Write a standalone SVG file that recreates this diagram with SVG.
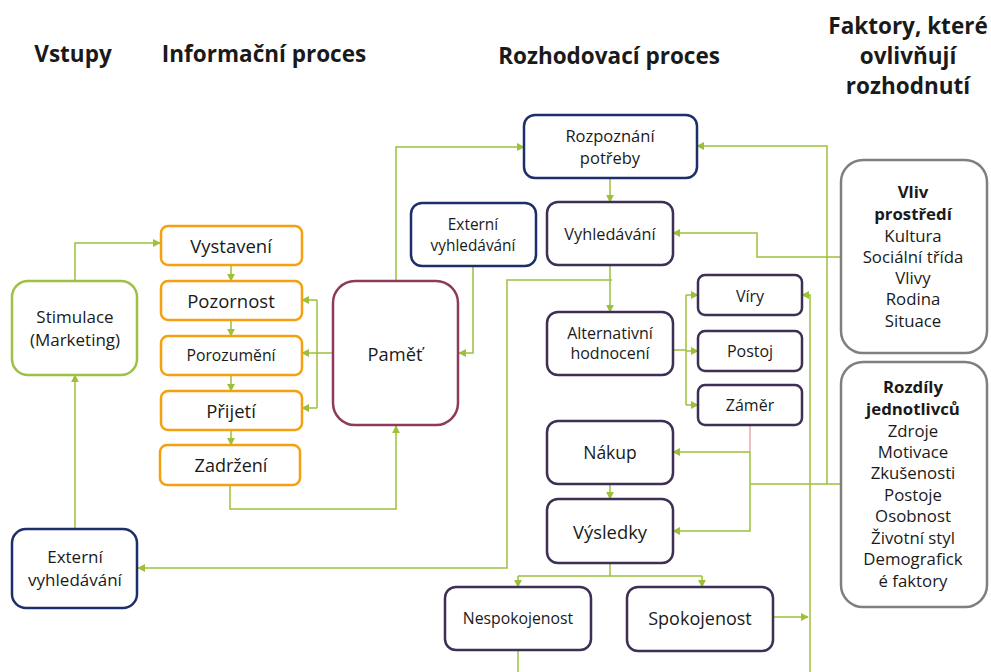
<svg xmlns="http://www.w3.org/2000/svg" width="991" height="672" viewBox="0 0 991 672">
<style>
text{font-family:"Open Sans","Liberation Sans",sans-serif;fill:#1a1a1a;text-anchor:middle;dominant-baseline:central}
.h{font-weight:bold;font-size:22.5px}
.n{fill:#fff;stroke-width:2.5}
.or{stroke:#F5A010}
.gr{stroke:#9DC045}
.nv{stroke:#1C2F6B}
.pu{stroke:#3D2F55}
.mr{stroke:#8E3A5C}
.gy{stroke:#7F7F7F}
.c path{fill:none;stroke:#9DC03A;stroke-width:1.5}
.b{font-weight:bold}
</style>
<defs>
<marker id="a" viewBox="0 0 10 10" refX="9" refY="5" markerWidth="8" markerHeight="8" markerUnits="userSpaceOnUse" orient="auto"><path d="M0,0 L10,5 L0,10 Z" fill="#9DC03A"/></marker>
</defs>

<g id="headers">
<text class="h" x="73" y="53">Vstupy</text>
<text class="h" x="264" y="53">Informační proces</text>
<text class="h" x="609" y="55">Rozhodovací proces</text>
<text class="h" x="908" y="25">Faktory, které</text>
<text class="h" x="908" y="55">ovlivňují</text>
<text class="h" x="908" y="85">rozhodnutí</text>
</g>

<g class="c" id="connectors">
<path d="M75,281 V243 H160" marker-end="url(#a)"/>
<path d="M75,529 V375" marker-end="url(#a)"/>
<path d="M231,265 V281" marker-end="url(#a)"/>
<path d="M231,320 V336" marker-end="url(#a)"/>
<path d="M231,375 V391" marker-end="url(#a)"/>
<path d="M231,430 V445" marker-end="url(#a)"/>
<path d="M333,353 H317 M317,300 V408"/>
<path d="M317,300 H302" marker-end="url(#a)"/>
<path d="M317,353 H302" marker-end="url(#a)"/>
<path d="M317,408 H302" marker-end="url(#a)"/>
<path d="M230,485 V509 H396 V426" marker-end="url(#a)"/>
<path d="M396,281 V147 H524" marker-end="url(#a)"/>
<path d="M473,266 V353 H459" marker-end="url(#a)"/>
<path d="M610,178 V202" marker-end="url(#a)"/>
<path d="M610,265 V312" marker-end="url(#a)"/>
<path d="M612,280 H507 V568 H138" marker-end="url(#a)"/>
<path d="M673,350 H686 M686,295 V405"/>
<path d="M686,295 H698" marker-end="url(#a)"/>
<path d="M686,351 H698" marker-end="url(#a)"/>
<path d="M686,405 H698" marker-end="url(#a)"/>
<path d="M750,425 V452" style="stroke:#E08080;stroke-width:1"/>
<path d="M750,452 H673" marker-end="url(#a)"/>
<path d="M750,452 V531 H673" marker-end="url(#a)"/>
<path d="M840,484 H750"/>
<path d="M827,484 V146 H697" marker-end="url(#a)"/>
<path d="M840,257 H757 V233 H673" marker-end="url(#a)"/>
<path d="M610,484 V499" marker-end="url(#a)"/>
<path d="M610,563 V576 M518,576 H702"/>
<path d="M518,576 V587" marker-end="url(#a)"/>
<path d="M702,576 V587" marker-end="url(#a)"/>
<path d="M773,617 H808" marker-end="url(#a)"/>
<path d="M810,672 V295 H802" marker-end="url(#a)"/>
<path d="M518,650 V672"/>
</g>

<g id="stimulace"><rect class="n gr" x="12" y="281" width="125" height="94" rx="16"/><text x="75" y="316" font-size="17">Stimulace</text><text x="75" y="339" font-size="17">(Marketing)</text></g>
<g id="externi1"><rect class="n nv" x="12" y="529" width="125" height="79" rx="14"/><text x="75" y="556" font-size="17">Externí</text><text x="75" y="579" font-size="17">vyhledávání</text></g>

<g id="vystaveni"><rect class="n or" x="161" y="226" width="141" height="39" rx="7"/><text x="231" y="245" font-size="18.5">Vystavení</text></g>
<g id="pozornost"><rect class="n or" x="161" y="281" width="141" height="39" rx="7"/><text x="231" y="300" font-size="18.5">Pozornost</text></g>
<g id="porozumeni"><rect class="n or" x="161" y="336" width="141" height="39" rx="7"/><text x="231" y="355" font-size="15.8">Porozumění</text></g>
<g id="prijeti"><rect class="n or" x="161" y="391" width="141" height="39" rx="7"/><text x="231" y="410" font-size="18.5">Přijetí</text></g>
<g id="zadrzeni"><rect class="n or" x="160" y="445" width="140" height="40" rx="7"/><text x="231" y="465" font-size="18">Zadržení</text></g>

<g id="pamet"><rect class="n mr" x="333" y="281" width="125" height="144" rx="22"/><text x="395" y="353" font-size="18.3">Paměť</text></g>
<g id="externi2"><rect class="n nv" x="411" y="203" width="125" height="63" rx="11"/><text x="473" y="224" font-size="15.4">Externí</text><text x="473" y="245" font-size="15.4">vyhledávání</text></g>

<g id="rozpoznani"><rect class="n nv" x="524" y="115" width="173" height="63" rx="11"/><text x="610" y="135" font-size="16.5">Rozpoznání</text><text x="610" y="157" font-size="16.5">potřeby</text></g>
<g id="vyhledavani"><rect class="n pu" x="547" y="202" width="126" height="63" rx="11"/><text x="610" y="234" font-size="16.3">Vyhledávání</text></g>
<g id="alternativni"><rect class="n pu" x="547" y="312" width="126" height="63" rx="11"/><text x="610" y="333" font-size="16">Alternativní</text><text x="610" y="353" font-size="16">hodnocení</text></g>
<g id="viry"><rect class="n pu" x="698" y="275" width="104" height="40" rx="7"/><text x="750" y="296" font-size="16">Víry</text></g>
<g id="postoj"><rect class="n pu" x="698" y="331" width="104" height="40" rx="7"/><text x="750" y="351" font-size="16">Postoj</text></g>
<g id="zamer"><rect class="n pu" x="698" y="385" width="104" height="40" rx="7"/><text x="750" y="405" font-size="16">Záměr</text></g>
<g id="nakup"><rect class="n pu" x="547" y="421" width="126" height="63" rx="11"/><text x="610" y="452" font-size="17.5">Nákup</text></g>
<g id="vysledky"><rect class="n pu" x="547" y="499" width="126" height="64" rx="11"/><text x="610" y="531" font-size="18.4">Výsledky</text></g>
<g id="nespokojenost"><rect class="n pu" x="445" y="587" width="146" height="63" rx="11"/><text x="518" y="618" font-size="15.8">Nespokojenost</text></g>
<g id="spokojenost"><rect class="n pu" x="627" y="587" width="146" height="64" rx="11"/><text x="700" y="618" font-size="18">Spokojenost</text></g>

<g id="vliv" font-size="16.8"><rect class="n gy" x="841" y="160" width="146" height="193" rx="22"/>
<text class="b" x="913" y="191">Vliv</text><text class="b" x="913" y="213">prostředí</text>
<text x="913" y="235">Kultura</text><text x="913" y="256">Sociální třída</text><text x="913" y="277">Vlivy</text><text x="913" y="298">Rodina</text><text x="913" y="320">Situace</text></g>
<g id="rozdily" font-size="16.8"><rect class="n gy" x="841" y="362" width="146" height="245" rx="22"/>
<text class="b" x="913" y="386">Rozdíly</text><text class="b" x="913" y="408">jednotlivců</text>
<text x="913" y="430">Zdroje</text><text x="913" y="451">Motivace</text><text x="913" y="472">Zkušenosti</text><text x="913" y="494">Postoje</text><text x="913" y="515">Osobnost</text><text x="913" y="537">Životní styl</text><text x="913" y="558">Demografick</text><text x="913" y="580">é faktory</text></g>
</svg>
